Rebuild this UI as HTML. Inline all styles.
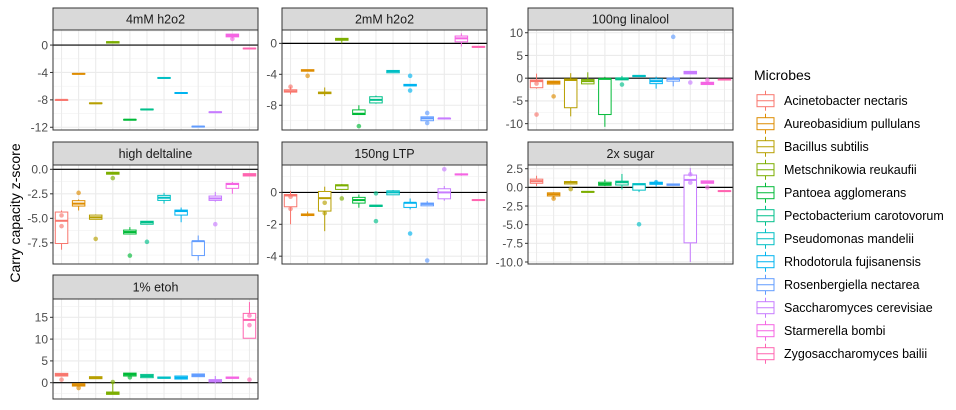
<!DOCTYPE html>
<html><head><meta charset="utf-8">
<style>
html,body{margin:0;padding:0;background:#fff;}
svg{display:block;font-family:"Liberation Sans",Arial,sans-serif;}
</style></head>
<body>
<svg id="chart" width="956" height="410" viewBox="0 0 956 410" xmlns="http://www.w3.org/2000/svg">
<text transform="translate(20,213) rotate(-90)" text-anchor="middle" font-size="14" fill="#000">Carry capacity z-score</text>
<g id="panels"></g>
<g id="legend"></g>
</svg>
<script>
const microbes = ["Acinetobacter nectaris","Aureobasidium pullulans","Bacillus subtilis","Metschnikowia reukaufii","Pantoea agglomerans","Pectobacterium carotovorum","Pseudomonas mandelii","Rhodotorula fujisanensis","Rosenbergiella nectarea","Saccharomyces cerevisiae","Starmerella bombi","Zygosaccharomyces bailii"];
const colors = ["#F8766D","#DE8C00","#B79F00","#7CAE00","#00BA38","#00C08B","#00BFC4","#00B4F0","#619CFF","#C77CFF","#F564E3","#FF64B0"];
const facetTitles = ["4mM h2o2","2mM h2o2","100ng linalool","high deltaline","150ng LTP","2x sugar","1% etoh"];
const yLimits = [[-12.4,2.2],[-11.2,1.73],[-11.4,10.6],[-9.66,0.44],[-4.49,1.72],[-10.27,3.0],[-3.74,19.2]];
const yTicks = [[0,-4,-8,-12],[0,-4,-8],[10,5,0,-5,-10],[0,-2.5,-5,-7.5],[0,-2,-4],[2.5,0,-2.5,-5,-7.5,-10],[15,10,5,0]];
const yTickLabels = [["0","-4","-8","-12"],["0","-4","-8"],["10","5","0","-5","-10"],["0.0","-2.5","-5.0","-7.5"],["0","-2","-4"],["2.5","0.0","-2.5","-5.0","-7.5","-10.0"],["15","10","5","0"]];
// box stats per microbe: [lower whisker, q1, median, q3, upper whisker]
const stats4mM = [[-8.0,-8.0,-8.0,-8.0,-8.0],[-4.2,-4.15,-4.2,-4.25,-4.2],[-8.5,-8.45,-8.5,-8.55,-8.5],[0.25,0.3,0.4,0.5,0.55],[-10.9,-10.85,-10.9,-10.95,-10.9],[-9.4,-9.35,-9.4,-9.45,-9.4],[-4.8,-4.75,-4.8,-4.85,-4.8],[-7.0,-6.95,-7.0,-7.05,-7.0],[-11.9,-11.85,-11.9,-11.95,-11.9],[-9.8,-9.75,-9.8,-9.85,-9.8],[1.0,1.2,1.4,1.6,1.6],[-0.5,-0.45,-0.5,-0.55,-0.5]];
const pts4mM = [[10,0.9]];
const stats2mM = [[-6.6,-6.3,-6.2,-6.0,-5.6],[-3.6,-3.6,-3.5,-3.4,-3.4],[-6.8,-6.5,-6.4,-6.3,-5.7],[0.0,0.4,0.5,0.65,0.65],[-9.2,-9.2,-9.1,-8.6,-8.0],[-7.8,-7.7,-7.3,-6.9,-6.75],[-3.8,-3.8,-3.6,-3.5,-3.5],[-5.5,-5.5,-5.4,-5.3,-5.3],[-10.0,-10.0,-9.7,-9.5,-9.5],[-9.7,-9.7,-9.7,-9.7,-9.7],[-0.4,0.2,0.65,0.95,1.3],[-0.45,-0.4,-0.45,-0.5,-0.45]];
const pts2mM = [[0,-5.6],[1,-4.2],[4,-10.7],[7,-4.2],[7,-6.1],[8,-9.0],[8,-10.3]];
const statsLinalool = [[-2.3,-2.1,-0.65,-0.4,1.0],[-1.3,-1.3,-0.95,-0.65,-0.65],[-8.4,-6.5,-0.4,-0.15,1.1],[-1.3,-1.25,-0.65,-0.3,1.3],[-10.7,-8.0,-0.15,-0.15,0.3],[-0.36,-0.36,-0.2,0.07,0.5],[0.35,0.35,0.5,0.6,0.6],[-2.3,-1.2,-0.65,-0.15,0.35],[-1.8,-0.65,-0.15,0,0.5],[0.95,0.95,1.25,1.5,1.5],[-1.4,-1.4,-1.1,-0.9,-0.9],[-0.4,-0.4,-0.3,-0.2,-0.2]];
const ptsLinalool = [[0,-8.0],[0,-1.2],[1,-4.0],[5,-1.4],[8,9.1],[9,-0.95],[10,-0.4]];
const statsDeltaline = [[-8.2,-7.57,-5.25,-4.36,-4.2],[-4.2,-3.75,-3.5,-3.2,-3.07],[-5.1,-5.1,-4.9,-4.67,-4.6],[-0.5,-0.5,-0.4,-0.3,-0.3],[-6.6,-6.6,-6.4,-6.2,-5.9],[-5.6,-5.6,-5.4,-5.3,-5.3],[-3.5,-3.17,-2.9,-2.66,-2.4],[-5.4,-4.67,-4.26,-4.16,-3.9],[-9.3,-8.8,-7.33,-7.33,-6.75],[-3.3,-3.17,-2.97,-2.73,-2.3],[-2.5,-1.94,-1.5,-1.43,-1.3],[-0.68,-0.68,-0.55,-0.44,-0.44]];
const ptsDeltaline = [[0,-4.7],[0,-5.8],[1,-2.4],[2,-7.1],[3,-0.9],[4,-8.8],[5,-7.4],[9,-5.6]];
const statsLTP = [[-2.0,-0.9,-0.19,-0.13,0.1],[-1.5,-1.45,-1.4,-1.35,-1.2],[-2.43,-1.17,-0.36,0.06,0.36],[0.19,0.19,0.44,0.48,0.52],[-0.96,-0.67,-0.48,-0.31,-0.13],[-0.88,-0.88,-0.84,-0.8,-0.8],[-0.15,-0.15,0,0.1,0.15],[-1.07,-0.94,-0.65,-0.65,-0.38],[-0.84,-0.84,-0.72,-0.67,-0.55],[-0.52,-0.4,0,0.23,0.4],[1.05,1.1,1.13,1.16,1.2],[-0.5,-0.46,-0.48,-0.5,-0.5]];
const ptsLTP = [[0,-0.27],[0,-1.03],[2,-0.65],[2,-1.3],[3,-0.38],[5,-0.06],[5,-1.8],[7,-2.58],[8,-4.27],[9,1.45]];
const statsSugar = [[0.18,0.55,0.83,1.1,1.56],[-1.5,-1.15,-0.92,-0.73,-0.65],[0.46,0.46,0.69,0.78,0.9],[-0.65,-0.65,-0.6,-0.55,-0.55],[0.18,0.28,0.46,0.69,1.05],[-0.28,0.32,0.69,0.83,1.8],[-0.64,-0.37,0.41,0.5,0.5],[0.1,0.41,0.55,0.69,0.9],[0.28,0.28,0.37,0.46,0.46],[-10.0,-7.43,1.0,1.65,2.6],[0.55,0.55,0.7,0.87,0.87],[-0.5,-0.45,-0.5,-0.55,-0.5]];
const ptsSugar = [[1,-1.5],[2,-0.23],[6,-4.95],[7,0.69],[9,1.75],[9,0.64],[10,0.0]];
const statsEtoh = [[1.53,1.53,1.84,2.14,2.14],[-0.77,-0.77,-0.54,-0.23,-0.23],[0.92,0.92,1.15,1.38,1.38],[-2.68,-2.68,-2.45,-2.14,0.15],[1.53,1.53,1.9,2.2,2.2],[1.15,1.15,1.53,1.9,1.9],[1.0,1.0,1.15,1.3,1.3],[0.84,0.84,1.15,1.53,1.53],[1.38,1.38,1.68,2.0,2.0],[-0.15,0.15,0.46,0.7,1.53],[1.0,1.0,1.15,1.3,1.3],[10.2,10.2,14.4,15.9,18.5]];
const ptsEtoh = [[0,0.7],[1,-1.22],[3,0.15],[4,1.22],[11,15.4],[11,13.2],[11,0.7]];
const allStats = [stats4mM,stats2mM,statsLinalool,statsDeltaline,statsLTP,statsSugar,statsEtoh];
const allPts = [pts4mM,pts2mM,ptsLinalool,ptsDeltaline,ptsLTP,ptsSugar,ptsEtoh];

const NS = "http://www.w3.org/2000/svg";
function mk(tag, attrs, parent){const e=document.createElementNS(NS,tag);for(const k in attrs)e.setAttribute(k,attrs[k]);parent.appendChild(e);return e;}
const colLeft=[53,282,528], panelW=205;
const rowStrip=[8,142,275], rowTop=[30,165,299], rowBot=[130,264,399];
const root=document.getElementById('panels');

facetTitles.forEach((title,p)=>{
  const c=p%3, r=Math.floor(p/3);
  const L=colLeft[c], T=rowTop[r], B=rowBot[r], H=B-T;
  const [ymin,ymax]=yLimits[p];
  const ys=v=>B-(v-ymin)/(ymax-ymin)*H;
  const xs=i=>L+(i+0.5)*panelW/12;
  const g=mk('g',{},root);
  
  
  // strip
  const strip=mk('rect',{x:L,y:rowStrip[r],width:panelW,height:T-rowStrip[r],fill:'#D9D9D9',stroke:'#333','stroke-width':1},g);
  
  
  const st=mk('text',{x:L+panelW/2,y:(rowStrip[r]+T)/2+4.5,'text-anchor':'middle','font-size':12.5,fill:'#1A1A1A'},g);
  st.textContent=title;
  
  
  mk('rect',{x:L,y:T,width:panelW,height:H,fill:'#fff'},g);
  // minor grid
  const tk=yTicks[p], step=Math.abs(tk[0]-tk[1]);
  for(let v=Math.min(...tk)-step/2; v<=ymax; v+=step){ if(v>=ymin) mk('line',{x1:L,x2:L+panelW,y1:ys(v),y2:ys(v),stroke:'#F2F2F2','stroke-width':0.6},g); }
  tk.forEach(v=>mk('line',{x1:L,x2:L+panelW,y1:ys(v),y2:ys(v),stroke:'#EBEBEB','stroke-width':1.1},g));
  for(let i=0;i<12;i++) mk('line',{x1:xs(i),x2:xs(i),y1:T,y2:B,stroke:'#EBEBEB','stroke-width':1.1},g);
  // zero line
  const z=mk('line',{x1:L,x2:L+panelW,y1:ys(0),y2:ys(0),stroke:'#000','stroke-width':1.2},g);
  
  
  // boxes
  const bw=12.5;
  allStats[p].forEach((s,i)=>{
    const col=colors[i], x=xs(i);
    const bg=mk('g',{},g);
    
    
    const lo=Math.min(s[0],s[1]),q1=Math.min(s[1],s[3]),q3=Math.max(s[1],s[3]),hi=Math.max(s[3],s[4]);
    mk('line',{x1:x,x2:x,y1:ys(hi),y2:ys(q3),stroke:col,'stroke-width':1},bg);
    mk('line',{x1:x,x2:x,y1:ys(q1),y2:ys(lo),stroke:col,'stroke-width':1},bg);
    mk('rect',{x:x-bw/2,y:ys(q3),width:bw,height:Math.max(ys(q1)-ys(q3),0.5),fill:'#fff',stroke:col,'stroke-width':1},bg);
    mk('line',{x1:x-bw/2,x2:x+bw/2,y1:ys(s[2]),y2:ys(s[2]),stroke:col,'stroke-width':2},bg);
  });
  allPts[p].forEach(([i,v])=>{
    const pt=mk('circle',{cx:xs(i),cy:ys(v),r:2.3,fill:colors[i],'fill-opacity':0.65},g);
    
    
  });
  mk('rect',{x:L,y:T,width:panelW,height:H,fill:'none',stroke:'#333','stroke-width':1},g);
  // y axis
  tk.forEach((v,k)=>{
    mk('line',{x1:L-3,x2:L,y1:ys(v),y2:ys(v),stroke:'#333','stroke-width':1},g);
    const t=mk('text',{x:L-5,y:ys(v)+4.3,'text-anchor':'end','font-size':12,fill:'#4D4D4D'},g);
    t.textContent=yTickLabels[p][k];
    
    
  });
});

// legend
const lg=document.getElementById('legend');
const lt=mk('text',{x:754,y:80,'font-size':14,fill:'#000'},lg);
lt.textContent='Microbes';


microbes.forEach((m,i)=>{
  const cy=100.7+i*23, col=colors[i];
  const e=mk('g',{},lg);
  
  
  mk('line',{x1:765.5,x2:765.5,y1:cy-10,y2:cy+10,stroke:col,'stroke-width':1},e);
  mk('rect',{x:757,y:cy-6,width:17,height:12,fill:'#fff',stroke:col,'stroke-width':1},e);
  mk('line',{x1:757,x2:774,y1:cy,y2:cy,stroke:col,'stroke-width':1},e);
  const t=mk('text',{x:784,y:cy+4.5,'font-size':12.5,fill:'#000'},e);
  t.textContent=m;
});
</script>
</body></html>
